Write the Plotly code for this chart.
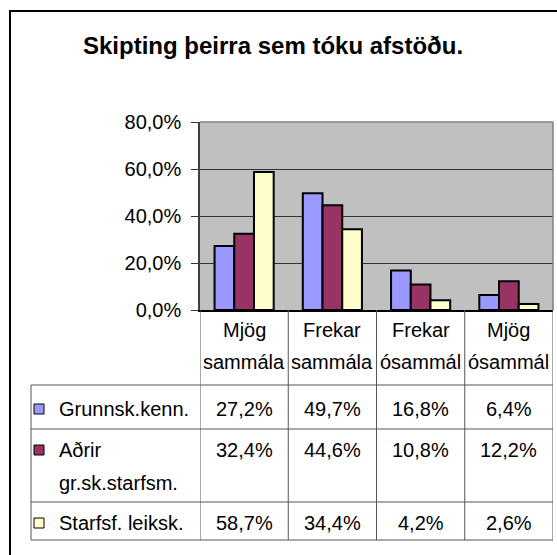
import plotly.graph_objects as go

W, H = 557, 555

# ---- data ----
cat_line1 = ["Mjög", "Frekar", "Frekar", "Mjög"]
cat_line2 = ["sammála", "sammála", "ósammál", "ósammál"]
categories = [f"{a} {b}" for a, b in zip(cat_line1, cat_line2)]

series_labels = [["Grunnsk.kenn."], ["Aðrir", "gr.sk.starfsm."], ["Starfsf. leiksk."]]
series_colors = ["#9999FF", "#993366", "#FFFFCC"]
grunnsk = [0.272, 0.497, 0.168, 0.064]
adrir = [0.324, 0.446, 0.108, 0.122]
starfsf = [0.587, 0.344, 0.042, 0.026]
series_values = [grunnsk, adrir, starfsf]

tick_vals = [0.0, 0.2, 0.4, 0.6, 0.8]
tick_labels = ["0,0%", "20,0%", "40,0%", "60,0%", "80,0%"]

title = "Skipting þeirra sem tóku afstöðu."

FONT = "Arial, Liberation Sans, sans-serif"


def px(x):
    return x / W


def py(y):
    return 1 - y / H


def fmt(v):
    return f"{v * 100:.1f}%".replace(".", ",")


fig = go.Figure()
for labels, vals, col in zip(series_labels, series_values, series_colors):
    fig.add_trace(go.Bar(
        x=categories, y=vals, name=" ".join(labels),
        marker=dict(color=col, line=dict(color="black", width=2)),
        showlegend=False,
    ))

shapes = []
annotations = []

# outer chart border
shapes.append(dict(type="rect", xref="paper", yref="paper",
                   x0=px(10), x1=1.05, y0=py(11), y1=-0.05,
                   line=dict(color="black", width=2)))

# plot area top and right border (gray)
shapes.append(dict(type="line", xref="x domain", yref="y domain",
                   x0=0, x1=1, y0=1, y1=1, line=dict(color="#808080", width=1.5)))
shapes.append(dict(type="line", xref="x domain", yref="y domain",
                   x0=1, x1=1, y0=0, y1=1, line=dict(color="#808080", width=1.5)))

# table geometry (pixel rows)
row_lines_px = [385, 429, 502, 540]
LINE = dict(color="#555555", width=1)

n = len(categories)
# vertical lines at category boundaries
for i in range(n + 1):
    shapes.append(dict(type="line", xref="x", yref="paper",
                       x0=i - 0.5, x1=i - 0.5, y0=py(310), y1=py(row_lines_px[-1]),
                       line=LINE))
# legend column left border
shapes.append(dict(type="line", xref="paper", yref="paper",
                   x0=px(31), x1=px(31), y0=py(row_lines_px[0]), y1=py(row_lines_px[-1]),
                   line=LINE))
# horizontal row lines
for yl in row_lines_px:
    shapes.append(dict(type="line", xref="paper", yref="paper",
                       x0=px(31), x1=px(553), y0=py(yl), y1=py(yl), line=LINE))

# header category labels
for c, a, b in zip(categories, cat_line1, cat_line2):
    annotations.append(dict(x=c, xref="x", y=py(330), yref="paper", text=a,
                            showarrow=False, xanchor="center", yanchor="middle",
                            font=dict(family=FONT, size=20, color="black")))
    annotations.append(dict(x=c, xref="x", y=py(362), yref="paper", text=b,
                            showarrow=False, xanchor="center", yanchor="middle",
                            font=dict(family=FONT, size=20, color="black")))

# rows
row_text_y = [[409], [450, 483], [523]]
for labels, vals, col, ys in zip(series_labels, series_values, series_colors, row_text_y):
    yc = ys[0]
    shapes.append(dict(type="rect", xref="paper", yref="paper",
                       x0=px(34), x1=px(44), y0=py(yc - 5), y1=py(yc + 5),
                       fillcolor=col, line=dict(color="black", width=1)))
    for lab, yy in zip(labels, ys):
        annotations.append(dict(x=px(57), xref="paper", y=py(yy), yref="paper", text=lab,
                                showarrow=False, xanchor="left", yanchor="middle",
                                font=dict(family=FONT, size=20, color="black")))
    for c, v in zip(categories, vals):
        annotations.append(dict(x=c, xref="x", y=py(yc), yref="paper", text=fmt(v),
                                showarrow=False, xanchor="center", yanchor="middle",
                                font=dict(family=FONT, size=20, color="black")))

# title
annotations.append(dict(x=px(273), xref="paper", y=py(45), yref="paper",
                        text=f"<b>{title}</b>", showarrow=False,
                        xanchor="center", yanchor="middle",
                        font=dict(family=FONT, size=24, color="black")))

fig.update_layout(
    width=W, height=H,
    margin=dict(l=0, r=0, t=0, b=0, autoexpand=False),
    paper_bgcolor="white",
    plot_bgcolor="#C0C0C0",
    barmode="group", bargap=0.33, bargroupgap=0,
    font=dict(family=FONT, size=20, color="black"),
    xaxis=dict(domain=[px(200), px(553)], type="category", range=[-0.5, n - 0.5],
               showticklabels=False, ticks="", showgrid=False, automargin=False,
               showline=True, linecolor="black", linewidth=1.5, fixedrange=True),
    yaxis=dict(domain=[py(310), py(122)], range=[0, 0.8],
               tickvals=tick_vals, ticktext=tick_labels, automargin=False,
               showgrid=True, gridcolor="#333333", gridwidth=1,
               zeroline=False,
               ticks="outside", ticklen=7, tickcolor="#333333", tickwidth=1,
               ticklabelstandoff=6,
               showline=True, linecolor="#404040", linewidth=1.5,
               tickfont=dict(family=FONT, size=20, color="black"), fixedrange=True),
    shapes=shapes,
    annotations=annotations,
)

fig.write_html("out.html", config={"displayModeBar": False},
               post_script="document.body.style.margin='0';document.body.style.overflow='hidden';")
